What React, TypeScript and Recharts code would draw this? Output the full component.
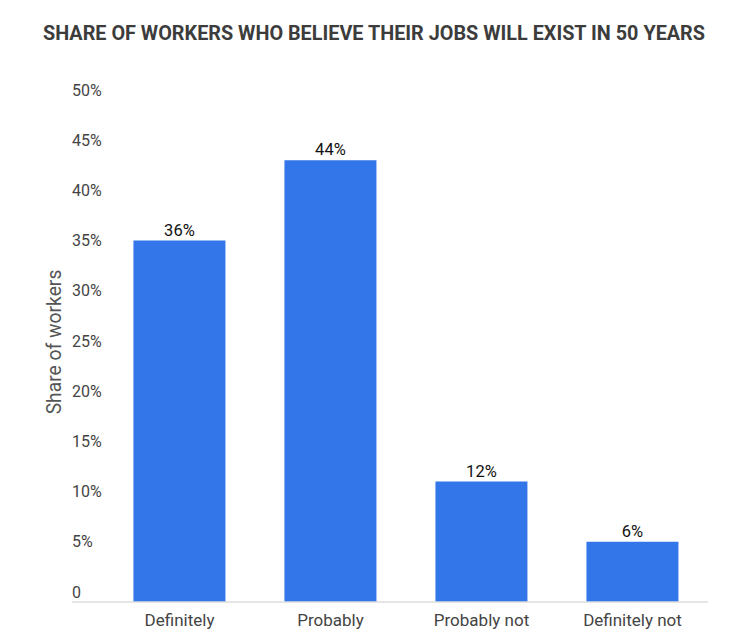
import { Bar, BarChart, LabelList, XAxis, YAxis, Customized } from "recharts";

const categories = ["Definitely", "Probably", "Probably not", "Definitely not"];
const shares = [36, 44, 12, 6];
const yTicks = [0, 5, 10, 15, 20, 25, 30, 35, 40, 45, 50];

const data = categories.map((name, i) => ({ name, share: shares[i] }));

const YTick = ({ y, payload }: any) => (
  <text x={72} y={y - 10} dy="0.35em" fontSize={16} fill="#444" fontFamily="Roboto">
    {payload.value === 0 ? "0" : `${payload.value}%`}
  </text>
);

export default function App() {
  return (
    <div style={{ position: "absolute", left: 0, top: 0, background: "#fff" }}>
      <BarChart width={745} height={644} data={data} margin={{ top: 100, right: 37, left: 71, bottom: 12 }} barCategoryGap="19.5%">
        <Customized component={() => (
          <text x={374} y={33} dy="0.35em" textAnchor="middle" fontFamily="Roboto" fontWeight={700} fontSize={20}
            fill="#3c3c3c" textLength={662} lengthAdjust="spacingAndGlyphs">
            SHARE OF WORKERS WHO BELIEVE THEIR JOBS WILL EXIST IN 50 YEARS
          </text>
        )} />
        <XAxis dataKey="name" height={30} padding={{ left: 32, right: 0 }} axisLine={{ stroke: "#ddd", strokeWidth: 1.5 }} tickLine={false}
          tick={{ fontSize: 17, fill: "#444", fontFamily: "Roboto" }} tickMargin={6} />
        <YAxis domain={[0, 50]} ticks={yTicks} width={1} axisLine={false} tickLine={false} tick={<YTick />}
          label={{ content: () => (
            <text x={54} y={342} textAnchor="middle" dominantBaseline="central" transform="rotate(-90 54 342)"
              fontSize={19.3} fill="#555" fontFamily="Roboto">Share of workers</text>
          ) }} />
        <Bar dataKey="share" fill="#3276ea" isAnimationActive={false}>
          <LabelList dataKey="share" position="top" offset={5} formatter={(v: any) => `${v}%`}
            style={{ fontSize: 16.5, fill: "#111", fontFamily: "Roboto" }} />
        </Bar>
      </BarChart>
    </div>
  );
}
